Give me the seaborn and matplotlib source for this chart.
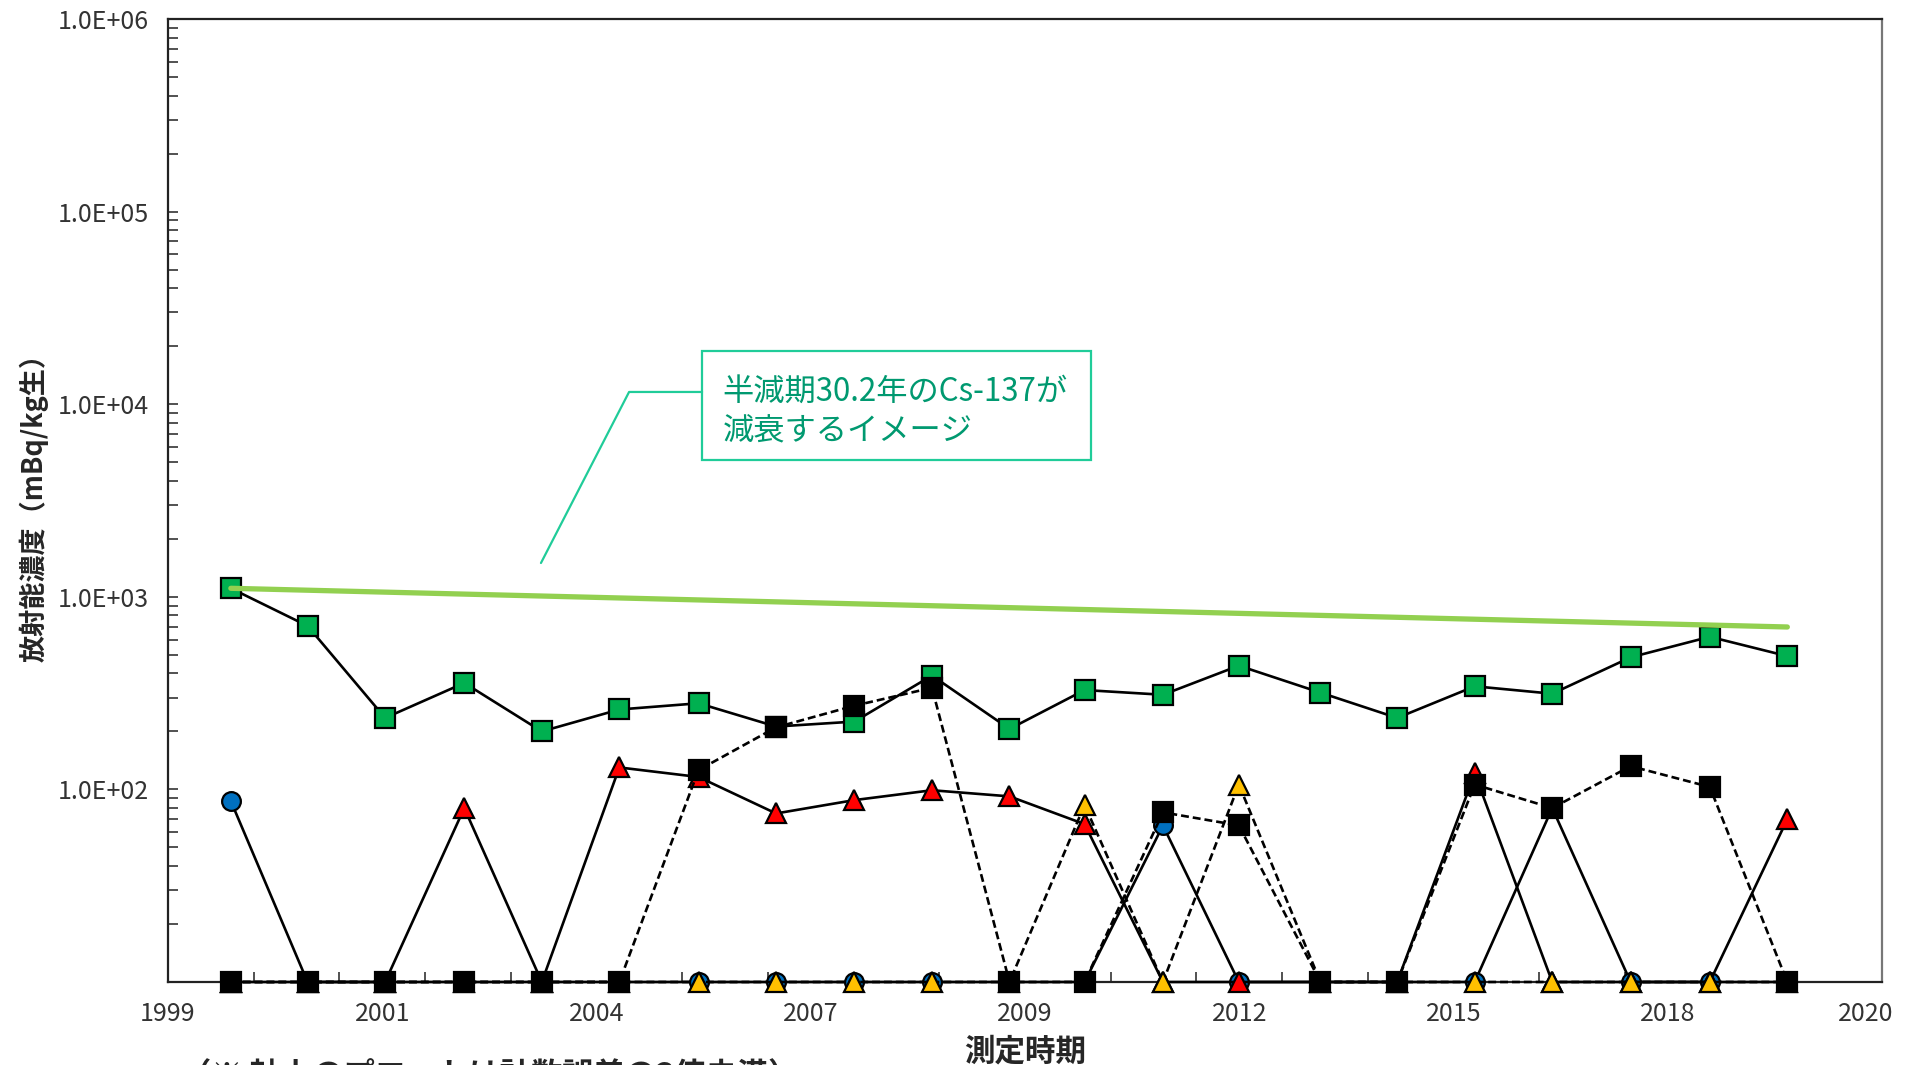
import numpy as np
import pandas as pd
import matplotlib
matplotlib.use("Agg")
import matplotlib.pyplot as plt
import matplotlib.ticker as mticker
import matplotlib.transforms as mtransforms
from matplotlib.lines import Line2D
from matplotlib.patches import Rectangle
import seaborn as sns

dates = [1999.77, 2000.71, 2001.66, 2002.63, 2003.58, 2004.53, 2005.50, 2006.45,
         2007.41, 2008.36, 2009.31, 2010.23, 2011.19, 2012.12, 2013.12, 2014.06,
         2015.01, 2015.96, 2016.92, 2017.89, 2018.84]

ND = 10  # below detection -> plotted on the axis

green_sq = [1107, 706, 235, 357, 200, 260, 280, 212, 225, 390, 206, 328, 310, 439,
            318, 235, 343, 314, 485, 620, 492]
red_tri = [ND, ND, ND, 80, ND, 130, 116, 75, 88, 99, 92, 66, ND, ND,
           ND, ND, 121, ND, ND, ND, 70]
blue_circ = [87, ND, ND, ND, ND, ND, ND, ND, ND, ND, ND, ND, 65, ND,
             ND, ND, ND, 80, ND, ND, ND]
yellow_tri = [ND, ND, ND, ND, ND, ND, ND, ND, ND, ND, ND, 83, ND, 106,
              ND, ND, ND, ND, ND, ND, ND]
black_sq = [ND, ND, ND, ND, ND, ND, 126, 210, 272, 337, ND, ND, 76, 65,
            ND, ND, 106, 80, 132, 103, ND]

# Cs-137 decay image line (start / end)
decay_x = [1999.77, 2018.84]
decay_y = [1107, 697]

xtick_labels = ["1999", "2001", "2004", "2007", "2009", "2012", "2015", "2018", "2020"]
ytick_vals = [1e2, 1e3, 1e4, 1e5, 1e6]

sns.set_theme(style="ticks")
plt.rcParams["font.family"] = ["Noto Sans CJK JP", "DejaVu Sans"]
jp = ["Noto Sans CJK JP", "DejaVu Sans"]

fig = plt.figure(figsize=(19.05, 10.65), dpi=100)
ax = fig.add_axes([168 / 1905, 83 / 1065, 1714 / 1905, 963 / 1065])

common = dict(ax=ax, markeredgecolor="black", markeredgewidth=1.6, clip_on=False,
              legend=False, lw=1.9)

sns.lineplot(x=dates, y=green_sq, marker="s", markersize=14.5, markerfacecolor="#00B050",
             color="black", zorder=3, **common)
sns.lineplot(x=decay_x, y=decay_y, color="#92D050", lw=3.8, ax=ax, zorder=4, legend=False)
sns.lineplot(x=dates, y=blue_circ, marker="o", markersize=13.5, markerfacecolor="#0070C0",
             color="black", zorder=5, **common)
sns.lineplot(x=dates, y=red_tri, marker="^", markersize=15, markerfacecolor="#FF0000",
             color="black", zorder=6, **common)
sns.lineplot(x=dates, y=yellow_tri, marker="^", markersize=15, markerfacecolor="#FFC000",
             color="black", linestyle=(0, (3, 1.5)), zorder=7, **common)
sns.lineplot(x=dates, y=black_sq, marker="s", markersize=14.5, markerfacecolor="black",
             color="black", linestyle=(0, (3, 1.5)), zorder=8, **common)

# axes
ax.set_yscale("log")
ax.set_ylim(10, 1e6)
ax.set_yticks(ytick_vals)
ax.yaxis.set_major_formatter(mticker.FuncFormatter(lambda v, p: f"{v:.1E}"))
ax.yaxis.set_minor_locator(mticker.LogLocator(base=10, subs=np.arange(2, 10)))
ax.yaxis.set_minor_formatter(mticker.NullFormatter())

ax.set_xlim(1999, 2020)
ax.set_xticks(np.linspace(1999, 2020, len(xtick_labels)))
ax.set_xticklabels(xtick_labels)
ax.set_xticks(np.linspace(1999, 2020, 21), minor=True)

ax.tick_params(axis="both", which="both", direction="in", colors="#333333",
               labelsize=18, width=1.2)
ax.tick_params(axis="both", which="major", length=7, pad=14)
ax.tick_params(axis="both", which="minor", length=7)
ax.tick_params(axis="x", which="major", length=0)

# last x label is pulled inside the figure, as in the original
last = ax.get_xticklabels()[-1]
last.set_transform(last.get_transform() +
                   mtransforms.ScaledTranslation(-12 / 72, 0, fig.dpi_scale_trans))

for side in ["left", "bottom", "top"]:
    ax.spines[side].set_color("#222222")
    ax.spines[side].set_linewidth(1.6)
ax.spines["right"].set_color("#777777")
ax.spines["right"].set_linewidth(1.6)
ax.set_xlabel("")
ax.set_ylabel("")

ax.text(0.5, -0.0717, "測定時期", transform=ax.transAxes, ha="center", va="center",
        fontsize=22, fontweight="bold", family=jp)
ax.text(-0.0782, 0.5, "放射能濃度（mBq/kg生）", transform=ax.transAxes, ha="center",
        va="center", rotation=90, fontsize=19.5, fontweight="bold", family=jp)

# callout
teal = "#20CC99"
ax.add_patch(Rectangle((0.3116, 0.5421), 0.5385 - 0.3116, 0.6552 - 0.5421,
                       transform=ax.transAxes, fill=False, edgecolor=teal, lw=1.6,
                       clip_on=False, zorder=9))
ax.add_line(Line2D([0.3116, 0.2690, 0.2176], [0.6127, 0.6127, 0.4351],
                   transform=ax.transAxes, color=teal, lw=1.6, zorder=9))
ax.text(0.3235, 0.593, "半減期30.2年のCs-137が\n減衰するイメージ", transform=ax.transAxes,
        ha="left", va="center", fontsize=22.5, color="#009970", family=jp,
        linespacing=1.25, zorder=10)

# note at bottom (cut off by the image edge, as in the original)
fig.text(180 / 1905, 0.004, "（※ 軸上のプロットは計数誤差の3倍未満）", ha="left", va="top",
         fontsize=22.5, fontweight="bold", family=jp)

fig.savefig("out.png", dpi=100)
